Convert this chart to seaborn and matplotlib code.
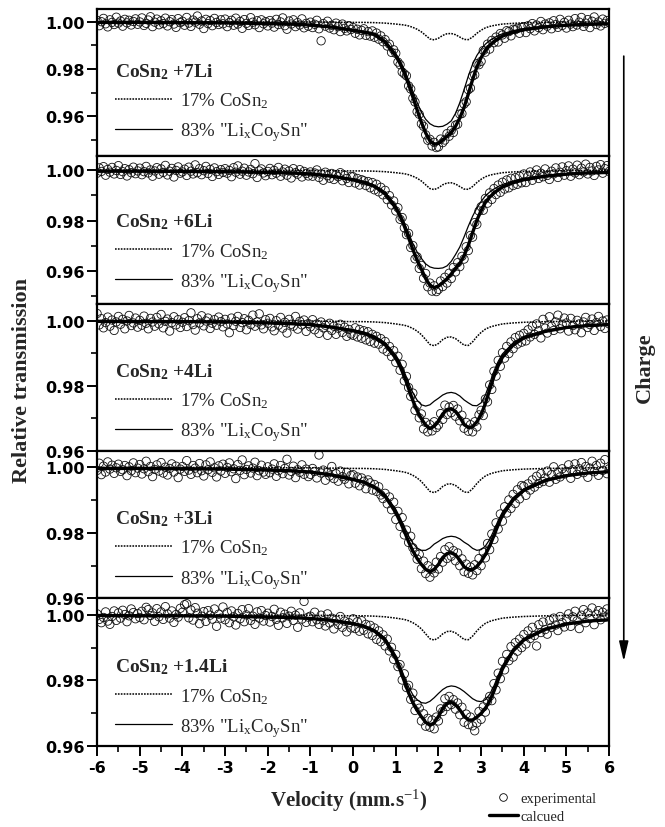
import numpy as np
import pandas as pd
import matplotlib
matplotlib.use("Agg")
import matplotlib.pyplot as plt
from matplotlib.lines import Line2D
from matplotlib.patches import FancyArrowPatch
from matplotlib.ticker import FixedLocator
import seaborn as sns

# ---------------------------------------------------------------- data
SAMPLES = ["+7Li", "+6Li", "+4Li", "+3Li", "+1.4Li"]
COMPONENT_LABELS = ["17% CoSn$_2$", "83% \"Li$_\\mathrm{x}$Co$_\\mathrm{y}$Sn\""]
X_TICKS = [-6, -5, -4, -3, -2, -1, 0, 1, 2, 3, 4, 5, 6]
Y_TICKS = [0.96, 0.98, 1.00]
Y_MINOR = [0.95, 0.97, 0.99]
PANEL_YLIM = [(0.943, 1.0054), (0.947, 1.0055), (0.960, 1.0052),
              (0.960, 1.0050), (0.960, 1.0050)]

# transmission values are stored in units of 1e-4
UNIT = 1e-4

# experimental channels: -6 .. 6 mm/s, 0.05 mm/s per channel
VEL_START = -6.0
VEL_STEP = 0.05
N_CHANNELS = 241

EXP_7LI = [
    10005, 9983, 10000, 10014, 9991, 9978, 10008, 9997, 9988, 10019, 9994, 10003, 9981, 10010, 9995, 10006, 9986, 10001, 10012, 9989,
    9999, 10016, 9984, 9993, 10007, 10021, 9979, 9998, 10011, 9987, 10004, 9992, 10015, 9982, 10000, 10009, 9990, 9976, 10013, 9996,
    10002, 9985, 10018, 9994, 9980, 10007, 9998, 10024, 9989, 10003, 9971, 10010, 9992, 10005, 9983, 10014, 9997, 9988, 10008, 9991,
    10011, 9979, 9996, 10006, 9985, 10015, 9990, 10001, 9972, 10009, 9993, 9984, 10017, 9998, 9987, 10004, 9975, 10008, 9991, 10000,
    9982, 10005, 9994, 9977, 10010, 9988, 9999, 10016, 9983, 9968, 10003, 9990, 10008, 9979, 9996, 9986, 10012, 9974, 9993, 9981,
    9998, 9975, 9989, 10006, 9970, 9919, 9992, 9981, 10002, 9973, 9985, 9966, 9994, 9979, 9958, 9990, 9972, 9961, 9983, 9967,
    9975, 9951, 9968, 9944, 9963, 9970, 9942, 9958, 9939, 9961, 9934, 9952, 9926, 9940, 9915, 9924, 9897, 9905, 9870, 9881,
    9866, 9829, 9818, 9787, 9779, 9771, 9728, 9715, 9676, 9660, 9619, 9608, 9568, 9557, 9521, 9498, 9502, 9474, 9489, 9467,
    9470, 9503, 9488, 9499, 9526, 9515, 9540, 9531, 9562, 9566, 9609, 9611, 9651, 9661, 9712, 9719, 9770, 9775, 9822, 9818,
    9832, 9878, 9871, 9905, 9884, 9921, 9911, 9935, 9914, 9950, 9944, 9930, 9962, 9958, 9940, 9968, 9966, 9972, 9951, 9976,
    9979, 9954, 9983, 9970, 9992, 9961, 9986, 9975, 10001, 9966, 9990, 9981, 9995, 9970, 10004, 9988, 9976, 10010, 9984, 9997,
    9973, 10006, 9990, 9979, 10013, 9986, 9998, 10018, 9980, 9994, 10009, 9975, 10002, 10020, 9988, 9999, 9982, 10011, 9993, 10005,
    9996]

EXP_6LI = [
    9988, 10009, 9995, 10014, 9980, 10003, 9992, 10011, 9985, 9999, 10018, 9983, 9994, 10006, 9977, 10002, 9990, 10012, 9986, 9997,
    10008, 9982, 9994, 10015, 9989, 10001, 9976, 9997, 10010, 9984, 10005, 9991, 10019, 9981, 9996, 10007, 9973, 9999, 10013, 9988,
    9993, 10004, 9979, 10012, 9996, 9985, 10021, 9990, 10006, 9982, 9998, 10015, 9987, 10003, 9975, 10009, 9994, 9983, 10002, 9991,
    10006, 9988, 9999, 9974, 10010, 9992, 10017, 9984, 9996, 10008, 9980, 9993, 10003, 9986, 10026, 9971, 9997, 10005, 9989, 9978,
    9995, 10007, 9982, 9999, 9988, 10011, 9976, 9993, 10004, 9980, 9997, 9969, 10006, 9990, 9984, 10002, 9973, 9995, 9987, 9977,
    9993, 9976, 9989, 10001, 9971, 9985, 9960, 9992, 9978, 9968, 9987, 9963, 9981, 9974, 9990, 9958, 9979, 9967, 9951, 9975,
    9974, 9949, 9967, 9941, 9962, 9958, 9939, 9955, 9930, 9951, 9922, 9944, 9914, 9932, 9902, 9920, 9883, 9899, 9862, 9878,
    9838, 9851, 9805, 9812, 9771, 9744, 9749, 9693, 9701, 9648, 9656, 9610, 9622, 9571, 9590, 9537, 9552, 9520, 9541, 9518,
    9527, 9560, 9538, 9575, 9552, 9591, 9570, 9614, 9596, 9633, 9617, 9658, 9647, 9696, 9681, 9741, 9734, 9792, 9785, 9838,
    9855, 9841, 9888, 9869, 9910, 9884, 9927, 9903, 9941, 9912, 9952, 9925, 9961, 9930, 9968, 9939, 9970, 9944, 9976, 9950,
    9985, 9951, 9976, 9993, 9960, 9982, 10001, 9967, 9988, 9974, 10005, 9979, 9963, 9996, 9985, 10009, 9971, 9992, 10013, 9980,
    9998, 10017, 9976, 10004, 9989, 10020, 9982, 10008, 9993, 10024, 9985, 10011, 9997, 9979, 10015, 10001, 10022, 9988, 10006, 10018,
    9995]

EXP_4LI = [
    10022, 9987, 10006, 9978, 9994, 10011, 9983, 10002, 9970, 9996, 10013, 9989, 10004, 9975, 9999, 10016, 9985, 9993, 10008, 9980,
    10001, 9986, 10014, 9992, 9975, 10007, 9996, 9983, 10010, 9990, 10019, 9978, 9998, 10005, 9968, 9994, 10012, 9987, 10003, 9979,
    9995, 10009, 9982, 10000, 10024, 9988, 9971, 10006, 9993, 10015, 9984, 9999, 10008, 9976, 9992, 10003, 9986, 10011, 9997, 9981,
    10004, 9990, 9963, 10008, 9985, 9998, 10013, 9979, 9994, 10006, 9972, 10001, 9988, 10017, 9983, 9996, 10021, 9987, 9975, 10003,
    9992, 10007, 9981, 9969, 10000, 9986, 10010, 9977, 9995, 9962, 10004, 9989, 9983, 10013, 9974, 9998, 9987, 10002, 9967, 9991,
    9981, 10003, 9972, 9990, 9961, 9996, 9978, 9986, 9955, 9992, 9970, 9983, 9958, 9977, 9989, 9964, 9980, 9952, 9973, 9959,
    9955, 9978, 9950, 9973, 9946, 9969, 9941, 9966, 9936, 9958, 9931, 9952, 9928, 9945, 9913, 9936, 9905, 9921, 9890, 9908,
    9872, 9891, 9848, 9866, 9815, 9829, 9795, 9768, 9778, 9725, 9740, 9702, 9714, 9668, 9688, 9659, 9681, 9662, 9690, 9672,
    9680, 9715, 9697, 9741, 9712, 9735, 9718, 9740, 9707, 9729, 9693, 9710, 9670, 9688, 9661, 9681, 9659, 9690, 9674, 9711,
    9725, 9709, 9760, 9751, 9803, 9789, 9845, 9830, 9878, 9860, 9902, 9885, 9921, 9899, 9935, 9914, 9948, 9928, 9955, 9934,
    9961, 9938, 9972, 9950, 9983, 9958, 9990, 9969, 9947, 10004, 9977, 9962, 10012, 9983, 9970, 9996, 10017, 9975, 9989, 10008,
    9993, 9968, 10007, 9985, 9972, 10001, 9990, 9963, 9996, 10010, 9979, 9988, 10005, 9970, 9994, 10013, 9982, 9999, 9976, 10002,
    9990]

EXP_3LI = [
    9991, 10013, 9978, 10004, 9986, 10017, 9995, 10007, 9982, 9999, 10010, 9988, 9993, 10006, 9975, 10002, 9990, 10014, 9984, 9998,
    10009, 9980, 9996, 10019, 9987, 10003, 9972, 9994, 10008, 9989, 10015, 9983, 10001, 9977, 9997, 10011, 9986, 10004, 9969, 9995,
    10003, 9988, 10021, 9992, 9979, 10006, 9998, 9984, 10012, 9990, 9974, 10008, 9993, 10017, 9985, 9999, 9971, 10005, 9989, 10010,
    9982, 10000, 10014, 9987, 9996, 9966, 10009, 9991, 10023, 9978, 9994, 10005, 9983, 9998, 10016, 9975, 9990, 10007, 9986, 9979,
    10002, 9984, 9995, 10011, 9973, 9990, 10006, 9981, 9997, 10025, 9977, 9988, 10004, 9969, 9993, 9985, 10008, 9979, 9995, 9972,
    9979, 9997, 9988, 9968, 10038, 9983, 9992, 9961, 9985, 9974, 10003, 9966, 9981, 9958, 9989, 9972, 9964, 9985, 9950, 9976,
    9978, 9952, 9971, 9944, 9968, 9958, 9935, 9962, 9953, 9931, 9948, 9927, 9941, 9916, 9905, 9921, 9889, 9910, 9871, 9894,
    9841, 9866, 9820, 9847, 9794, 9809, 9771, 9790, 9755, 9741, 9720, 9735, 9691, 9714, 9676, 9700, 9665, 9690, 9678, 9711,
    9690, 9728, 9711, 9749, 9722, 9758, 9729, 9746, 9715, 9739, 9700, 9721, 9682, 9705, 9677, 9696, 9672, 9703, 9685, 9722,
    9700, 9741, 9724, 9768, 9749, 9797, 9780, 9831, 9812, 9858, 9836, 9880, 9861, 9901, 9875, 9918, 9890, 9932, 9904, 9945,
    9942, 9915, 9950, 9931, 9962, 9940, 9973, 9951, 9981, 9957, 9968, 9989, 9955, 9978, 10002, 9964, 9985, 9971, 9996, 9980,
    9988, 10008, 9967, 9993, 10011, 9979, 9996, 10015, 9984, 10003, 9970, 9998, 10019, 9987, 10006, 9976, 10013, 9991, 10024, 9981,
    9996]

EXP_14LI = [
    10003, 9986, 9976, 9992, 10009, 9981, 9971, 9995, 10012, 9983, 10006, 9990, 10014, 10001, 9979, 9997, 10018, 10007, 9988, 10004,
    9992, 10011, 9985, 10023, 10016, 9998, 10006, 9980, 10019, 9994, 10009, 9986, 10025, 10003, 9990, 10012, 9977, 10001, 9993, 10020,
    10008, 10031, 10034, 9991, 10015, 9984, 10022, 10005, 9973, 9996, 10010, 9980, 10013, 9999, 9987, 10018, 9965, 10002, 9990, 10024,
    9985, 10007, 9976, 10012, 9994, 9969, 10004, 9988, 10016, 9979, 10000, 10019, 9983, 9996, 9971, 10009, 9990, 10013, 9981, 9998,
    10005, 9978, 9995, 10017, 9986, 9968, 10008, 9991, 10002, 9974, 9996, 10011, 9983, 9999, 9962, 10006, 9987, 10041, 9977, 9993,
    9996, 9979, 10008, 9985, 9971, 9999, 9982, 9966, 10003, 9975, 9990, 9957, 9984, 9970, 9995, 9962, 9981, 9948, 9976, 9960,
    9988, 9958, 9979, 9950, 9982, 9953, 9971, 9942, 9968, 9937, 9960, 9925, 9951, 9918, 9939, 9905, 9926, 9890, 9901, 9864,
    9879, 9842, 9848, 9801, 9820, 9778, 9785, 9742, 9761, 9708, 9726, 9715, 9676, 9698, 9660, 9684, 9657, 9679, 9652, 9688,
    9676, 9713, 9705, 9744, 9720, 9751, 9726, 9741, 9712, 9731, 9695, 9718, 9672, 9697, 9665, 9688, 9661, 9646, 9670, 9705,
    9681, 9719, 9703, 9736, 9751, 9738, 9790, 9771, 9822, 9805, 9858, 9832, 9879, 9860, 9903, 9871, 9915, 9889, 9926, 9900,
    9940, 9911, 9951, 9928, 9962, 9937, 9905, 9970, 9946, 9978, 9955, 9941, 9983, 9962, 9990, 9969, 9952, 9995, 9976, 9963,
    9987, 10003, 9965, 9994, 10011, 9982, 9958, 9999, 10016, 9976, 10006, 9989, 10021, 9970, 10002, 10013, 9985, 10008, 9993, 10018,
    10003]

# fitted curves, read at these velocities
CURVE_V = [-6, -5, -4, -3, -2, -1.5, -1, -0.5, 0, 0.25, 0.5, 0.75, 1, 1.1, 1.2,
           1.3, 1.4, 1.5, 1.6, 1.7, 1.8, 1.9, 2, 2.1, 2.2, 2.3, 2.4, 2.5, 2.6,
           2.7, 2.8, 2.9, 3, 3.1, 3.2, 3.3, 3.4, 3.5, 3.75, 4, 4.5, 5, 5.5, 6]

# 17 % CoSn2 doublet (same in every panel)
FIT_COSN2 = [10000, 10000, 10000, 10000, 9999, 9999, 9999, 9998, 9997, 9997, 9996, 9994, 9990, 9988, 9986,
             9982, 9976, 9968, 9957, 9942, 9927, 9923, 9930, 9942, 9949, 9950, 9945, 9935, 9925,
             9924, 9935, 9951, 9964, 9974, 9980, 9984, 9987, 9990, 9993, 9995, 9997, 9998, 9999, 9999]

FIT_LIXCOYSN_7LI = [9997, 9997, 9996, 9995, 9993, 9991, 9987, 9979, 9966, 9959, 9950, 9920, 9865, 9835, 9797,
                    9753, 9705, 9658, 9617, 9587, 9568, 9558, 9555, 9557, 9566, 9580, 9612, 9657, 9712,
                    9770, 9820, 9857, 9884, 9905, 9920, 9932, 9941, 9949, 9962, 9971, 9981, 9987, 9990, 9992]
FIT_TOTAL_7LI = [9997, 9997, 9996, 9995, 9992, 9990, 9986, 9977, 9963, 9956, 9946, 9914, 9855, 9823, 9783,
                 9735, 9681, 9626, 9574, 9529, 9495, 9481, 9485, 9499, 9515, 9530, 9557, 9592, 9637,
                 9694, 9755, 9808, 9848, 9879, 9900, 9916, 9928, 9939, 9955, 9966, 9978, 9985, 9989, 9991]

FIT_LIXCOYSN_6LI = [9996, 9996, 9995, 9994, 9992, 9990, 9986, 9978, 9965, 9955, 9940, 9912, 9860, 9830, 9792,
                    9750, 9709, 9675, 9650, 9628, 9616, 9611, 9610, 9612, 9620, 9638, 9665, 9695, 9735,
                    9778, 9817, 9850, 9876, 9898, 9913, 9925, 9935, 9943, 9957, 9967, 9979, 9986, 9990, 9992]
FIT_TOTAL_6LI = [9996, 9996, 9995, 9994, 9991, 9989, 9985, 9976, 9962, 9952, 9936, 9906, 9850, 9818, 9778,
                 9732, 9685, 9643, 9607, 9570, 9543, 9534, 9540, 9554, 9569, 9588, 9610, 9630, 9660,
                 9702, 9752, 9801, 9840, 9872, 9893, 9909, 9922, 9933, 9950, 9962, 9976, 9984, 9989, 9991]

FIT_LIXCOYSN_4LI = [9998, 9997, 9997, 9996, 9994, 9992, 9989, 9982, 9972, 9965, 9953, 9933, 9895, 9872, 9843,
                    9810, 9779, 9756, 9742, 9738, 9742, 9753, 9762, 9772, 9778, 9780, 9777, 9769, 9757,
                    9748, 9740, 9739, 9748, 9772, 9808, 9845, 9875, 9898, 9932, 9952, 9970, 9981, 9986, 9989]
FIT_TOTAL_4LI = [9998, 9997, 9997, 9996, 9993, 9991, 9988, 9980, 9969, 9962, 9949, 9927, 9885, 9860, 9829,
                 9792, 9755, 9724, 9699, 9680, 9669, 9676, 9692, 9714, 9727, 9730, 9722, 9704, 9682,
                 9672, 9675, 9690, 9712, 9746, 9788, 9829, 9862, 9888, 9925, 9947, 9967, 9979, 9985, 9988]

FIT_LIXCOYSN_3LI = [9997, 9997, 9996, 9995, 9993, 9991, 9987, 9979, 9966, 9958, 9944, 9918, 9872, 9847, 9819,
                    9791, 9769, 9754, 9747, 9747, 9754, 9766, 9774, 9783, 9788, 9790, 9788, 9782, 9772,
                    9764, 9753, 9747, 9749, 9760, 9780, 9808, 9838, 9864, 9908, 9935, 9963, 9977, 9984, 9988]
FIT_TOTAL_3LI = [9997, 9997, 9996, 9995, 9992, 9990, 9986, 9977, 9963, 9955, 9940, 9912, 9862, 9835, 9805,
                 9773, 9745, 9722, 9704, 9689, 9681, 9689, 9704, 9725, 9737, 9740, 9733, 9717, 9697,
                 9688, 9688, 9698, 9713, 9734, 9760, 9792, 9825, 9854, 9901, 9930, 9960, 9975, 9983, 9987]

FIT_LIXCOYSN_14LI = [9998, 9997, 9997, 9996, 9994, 9993, 9990, 9985, 9976, 9968, 9955, 9930, 9876, 9845, 9811,
                     9780, 9756, 9741, 9732, 9730, 9736, 9747, 9760, 9772, 9780, 9783, 9781, 9775, 9766,
                     9755, 9744, 9737, 9735, 9741, 9757, 9783, 9815, 9845, 9897, 9928, 9959, 9974, 9982, 9986]
FIT_TOTAL_14LI = [9998, 9997, 9997, 9996, 9993, 9992, 9989, 9983, 9973, 9965, 9951, 9924, 9866, 9833, 9797,
                  9762, 9732, 9709, 9689, 9672, 9663, 9670, 9690, 9714, 9729, 9733, 9726, 9710, 9691,
                  9679, 9679, 9688, 9699, 9715, 9737, 9767, 9802, 9835, 9890, 9923, 9956, 9972, 9981, 9985]

EXPERIMENTAL = [EXP_7LI, EXP_6LI, EXP_4LI, EXP_3LI, EXP_14LI]
FIT_LIXCOYSN = [FIT_LIXCOYSN_7LI, FIT_LIXCOYSN_6LI, FIT_LIXCOYSN_4LI,
                FIT_LIXCOYSN_3LI, FIT_LIXCOYSN_14LI]
FIT_TOTAL = [FIT_TOTAL_7LI, FIT_TOTAL_6LI, FIT_TOTAL_4LI, FIT_TOTAL_3LI, FIT_TOTAL_14LI]

# ---------------------------------------------------------------- style
sns.set_theme(style="ticks")
plt.rcParams.update({
    "font.family": ["Liberation Serif", "DejaVu Serif"],
    "mathtext.fontset": "custom",
    "mathtext.rm": "Liberation Serif",
    "mathtext.it": "Liberation Serif:italic",
    "mathtext.bf": "Liberation Serif:bold",
    "axes.linewidth": 1.6,
    "axes.edgecolor": "black",
    "axes.facecolor": "white",
    "figure.facecolor": "white",
})

TICK_FONT = dict(family="DejaVu Sans", weight="bold", size=11.5)
DOTTED = (0, (1.1, 0.8))
TEXT_BASE = [0.545, 0.525, 0.51, 0.51, 0.505]

fig, axes = plt.subplots(5, 1, figsize=(6.65, 8.28), dpi=100, sharex=True)
fig.subplots_adjust(left=0.146, right=0.916, top=0.988, bottom=0.098, hspace=0)

channels = np.round(VEL_START + VEL_STEP * np.arange(N_CHANNELS), 3)

for i, ax in enumerate(axes):
    exp_df = pd.DataFrame({"velocity": channels,
                           "transmission": np.asarray(EXPERIMENTAL[i]) * UNIT})
    sns.scatterplot(data=exp_df, x="velocity", y="transmission", ax=ax,
                    marker="o", s=36, facecolor="none", edgecolor="#111111",
                    linewidth=0.6, legend=False, zorder=2)

    fit_df = pd.DataFrame({
        "velocity": CURVE_V,
        "cosn2": np.asarray(FIT_COSN2) * UNIT,
        "lixcoysn": np.asarray(FIT_LIXCOYSN[i]) * UNIT,
        "total": np.asarray(FIT_TOTAL[i]) * UNIT,
    })
    sns.lineplot(data=fit_df, x="velocity", y="cosn2", ax=ax, color="black",
                 linewidth=1.1, linestyle=DOTTED, estimator=None, sort=False, zorder=3)
    sns.lineplot(data=fit_df, x="velocity", y="lixcoysn", ax=ax, color="black",
                 linewidth=0.9, estimator=None, sort=False, zorder=3)
    sns.lineplot(data=fit_df, x="velocity", y="total", ax=ax, color="black",
                 linewidth=2.4, estimator=None, sort=False, zorder=4)

    ax.set_xlim(-6, 6)
    ax.set_ylim(*PANEL_YLIM[i])
    ax.set_xlabel("")
    ax.set_ylabel("")
    ax.set_yticks(Y_TICKS, labels=[f"{t:.2f}" for t in Y_TICKS], **{"fontfamily": TICK_FONT["family"],
                  "fontweight": TICK_FONT["weight"], "fontsize": TICK_FONT["size"]})
    ax.yaxis.set_minor_locator(FixedLocator(Y_MINOR))
    ax.tick_params(axis="y", which="major", direction="out", length=7, width=1.4,
                   left=True, right=False, pad=2, colors="black")
    ax.tick_params(axis="y", which="minor", direction="out", length=4, width=1.4,
                   left=True, right=False)
    for sp in ax.spines.values():
        sp.set_visible(True)
        sp.set_linewidth(1.6)
        sp.set_color("black")

    if i < 4:
        ax.tick_params(axis="x", which="both", bottom=False, top=False, labelbottom=False)
    else:
        ax.set_xticks(X_TICKS, labels=[str(t) for t in X_TICKS],
                      fontfamily=TICK_FONT["family"], fontweight=TICK_FONT["weight"],
                      fontsize=TICK_FONT["size"])
        ax.set_xticks([t + 0.5 for t in X_TICKS[:-1]], minor=True)
        ax.tick_params(axis="x", which="major", direction="out", length=7, width=1.4,
                       bottom=True, top=False, pad=3, colors="black")
        ax.tick_params(axis="x", which="minor", direction="out", length=4, width=1.4,
                       bottom=True, top=False)

    base = TEXT_BASE[i]
    ax.text(0.035, base, r"CoSn$_{\mathbf{2}}$ " + SAMPLES[i], transform=ax.transAxes,
            fontsize=14, fontweight="bold", ha="left", va="baseline", zorder=5)
    for k, (ls, lw) in enumerate([(DOTTED, 1.1), ("-", 0.9)]):
        yb = base - 0.2 - 0.205 * k
        ax.add_line(Line2D([0.035, 0.146], [yb + 0.045, yb + 0.045], transform=ax.transAxes,
                           color="black", linestyle=ls, linewidth=lw))
        ax.text(0.162, yb, COMPONENT_LABELS[k], transform=ax.transAxes,
                fontsize=13.5, ha="left", va="baseline", zorder=5)

fig.text(0.033, 0.54, "Relative transmission", rotation=90, fontsize=16,
         fontweight="bold", ha="center", va="center")
fig.text(0.525, 0.033, r"Velocity (mm.s$^{-1}$)", fontsize=15, fontweight="bold",
         ha="center", va="center")
fig.text(0.970, 0.556, "Charge", rotation=90, fontsize=16, fontweight="bold",
         ha="center", va="center")
fig.add_artist(FancyArrowPatch(posA=(0.938, 0.931), posB=(0.938, 0.200),
                               transform=fig.transFigure,
                               arrowstyle="-|>,head_length=1.2,head_width=0.28",
                               mutation_scale=10, linewidth=1.2, color="black",
                               shrinkA=0, shrinkB=0))

handles = [Line2D([], [], marker="o", linestyle="none", markerfacecolor="none",
                  markeredgecolor="black", markersize=5.5, markeredgewidth=0.6),
           Line2D([], [], color="black", linewidth=2.4)]
fig.legend(handles, ["experimental", "calcued"], loc="center left",
           bbox_to_anchor=(0.735, 0.0235), frameon=False,
           prop={"family": "Liberation Serif", "size": 10.5},
           handlelength=2.0, handletextpad=0.15, labelspacing=0.3,
           borderpad=0, borderaxespad=0)

fig.savefig("out.png", dpi=100, facecolor="white")
